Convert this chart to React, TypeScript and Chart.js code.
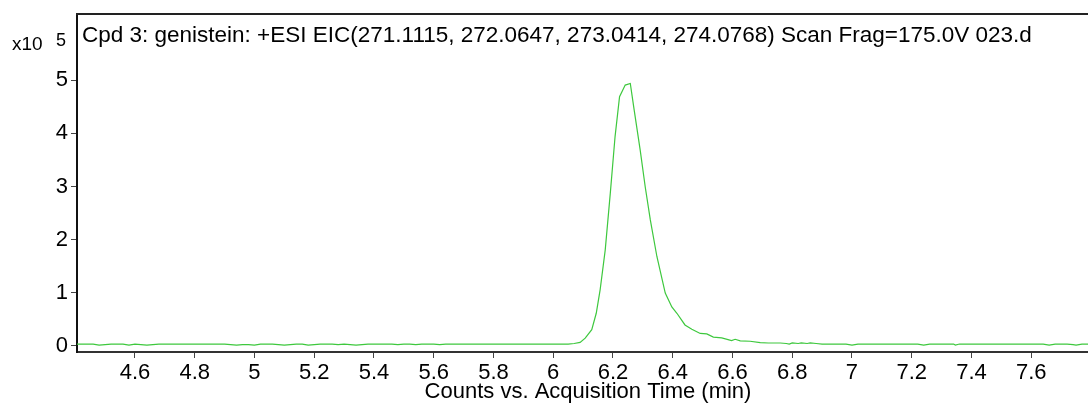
import React, { useEffect, useRef } from 'react';
import { Chart, registerables } from 'chart.js';

Chart.register(...registerables);

// Acquisition time (min)
const times: number[] = [
  4.40, 4.42, 4.44, 4.46, 4.48, 4.50, 4.52, 4.54, 4.56, 4.58,
  4.60, 4.62, 4.64, 4.66, 4.68, 4.70, 4.72, 4.74, 4.76, 4.78,
  4.80, 4.82, 4.84, 4.86, 4.88, 4.90, 4.92, 4.94, 4.96, 4.98,
  5.00, 5.02, 5.04, 5.06, 5.08, 5.10, 5.12, 5.14, 5.16, 5.18,
  5.20, 5.22, 5.24, 5.26, 5.28, 5.30, 5.32, 5.34, 5.36, 5.38,
  5.40, 5.42, 5.44, 5.46, 5.48, 5.50, 5.52, 5.54, 5.56, 5.58,
  5.60, 5.62, 5.64, 5.66, 5.68, 5.70, 5.72, 5.74, 5.76, 5.78,
  5.80, 5.82, 5.84, 5.86, 5.88, 5.90, 5.92, 5.94, 5.96, 5.98,
  6.00, 6.02, 6.05, 6.07, 6.09, 6.107, 6.129, 6.144, 6.157, 6.174,
  6.191, 6.207, 6.222, 6.241, 6.258, 6.271, 6.291, 6.308, 6.325, 6.347,
  6.375, 6.397, 6.414, 6.441, 6.464, 6.492, 6.514, 6.536, 6.564, 6.597,
  6.609, 6.626, 6.659, 6.693, 6.72, 6.74, 6.76, 6.78, 6.79, 6.80,
  6.82, 6.83, 6.85, 6.86, 6.88, 6.90, 6.92, 6.94, 6.96, 6.98,
  7.00, 7.02, 7.06, 7.10, 7.14, 7.18, 7.22, 7.24, 7.26, 7.30,
  7.34, 7.346, 7.36, 7.40, 7.44, 7.48, 7.52, 7.56, 7.60, 7.64,
  7.66, 7.68, 7.72, 7.74, 7.75, 7.77, 7.80, 7.82,
];

// Counts (x10^5)
const counts: number[] = [
  0.03, 0.03, 0.03, 0.03, 0.01, 0.02, 0.03, 0.03, 0.03, 0.01,
  0.03, 0.02, 0.01, 0.02, 0.03, 0.03, 0.03, 0.03, 0.03, 0.03,
  0.03, 0.03, 0.03, 0.03, 0.03, 0.03, 0.02, 0.01, 0.02, 0.02,
  0.01, 0.03, 0.03, 0.03, 0.02, 0.01, 0.02, 0.03, 0.03, 0.01,
  0.02, 0.03, 0.03, 0.03, 0.02, 0.03, 0.02, 0.01, 0.02, 0.03,
  0.03, 0.03, 0.03, 0.03, 0.02, 0.03, 0.03, 0.02, 0.03, 0.03,
  0.03, 0.02, 0.03, 0.03, 0.03, 0.03, 0.03, 0.03, 0.03, 0.03,
  0.03, 0.03, 0.03, 0.03, 0.03, 0.03, 0.03, 0.03, 0.03, 0.03,
  0.03, 0.03, 0.03, 0.04, 0.06, 0.14, 0.30, 0.61, 1.05, 1.80,
  2.87, 3.94, 4.69, 4.91, 4.94, 4.44, 3.69, 2.99, 2.37, 1.68,
  0.99, 0.73, 0.61, 0.39, 0.31, 0.23, 0.22, 0.16, 0.145, 0.094,
  0.12, 0.09, 0.083, 0.057, 0.05, 0.05, 0.05, 0.04, 0.03, 0.05,
  0.04, 0.05, 0.04, 0.05, 0.04, 0.03, 0.03, 0.03, 0.03, 0.03,
  0.01, 0.03, 0.03, 0.03, 0.03, 0.03, 0.03, 0.01, 0.03, 0.03,
  0.03, 0.01, 0.03, 0.03, 0.03, 0.03, 0.03, 0.03, 0.03, 0.03,
  0.01, 0.03, 0.03, 0.02, 0.01, 0.03, 0.03, 0.03,
];

const xTicks: number[] = [4.6, 4.8, 5.0, 5.2, 5.4, 5.6, 5.8, 6.0, 6.2, 6.4, 6.6, 6.8, 7.0, 7.2, 7.4, 7.6];
const yTicks: number[] = [0, 1, 2, 3, 4, 5];

const titleText = 'Cpd 3: genistein: +ESI EIC(271.1115, 272.0647, 273.0414, 274.0768) Scan Frag=175.0V 023.d';
const xAxisTitle = 'Counts vs. Acquisition Time (min)';
const yMultiplierBase = 'x10';
const yMultiplierExp = '5';

const FONT = '"Liberation Sans", Arial, Helvetica, sans-serif';

const decorPlugin = {
  id: 'decor',
  afterDraw(chart: any) {
    const { ctx, chartArea } = chart;
    ctx.save();
    // top border
    ctx.strokeStyle = '#222';
    ctx.lineWidth = 2;
    ctx.beginPath();
    ctx.moveTo(chartArea.left - 1, chartArea.top);
    ctx.lineTo(chartArea.right, chartArea.top);
    ctx.stroke();

    ctx.fillStyle = '#000';
    ctx.textBaseline = 'alphabetic';
    // title
    ctx.font = `22.5px ${FONT}`;
    ctx.textAlign = 'left';
    ctx.fillText(titleText, chartArea.left + 5, 42);
    // multiplier
    ctx.font = `19px ${FONT}`;
    ctx.fillText(yMultiplierBase, 12, 50);
    ctx.font = `18px ${FONT}`;
    ctx.fillText(yMultiplierExp, 56, 46);
    // x axis title
    ctx.font = `22px ${FONT}`;
    ctx.textAlign = 'center';
    ctx.fillText(xAxisTitle, 588, 398);
    ctx.restore();
  },
};

export default function App() {
  const ref = useRef<HTMLCanvasElement | null>(null);

  useEffect(() => {
    if (!ref.current) return;
    const chart = new Chart(ref.current, {
      type: 'line',
      data: {
        datasets: [
          {
            data: times.map((t, i) => ({ x: t, y: counts[i] })),
            borderColor: '#3ec83e',
            borderWidth: 1.2,
            pointRadius: 0,
            tension: 0,
            fill: false,
          },
        ],
      },
      options: {
        animation: false,
        responsive: false,
        maintainAspectRatio: false,
        layout: { padding: { top: 14, left: 0, right: 0, bottom: 0 } },
        plugins: {
          legend: { display: false },
          tooltip: { enabled: false },
          title: { display: false },
        },
        scales: {
          x: {
            type: 'linear',
            min: 4.406,
            max: 7.79,
            afterFit: (s: any) => {
              s.height = 53;
              s.paddingLeft = 0;
              s.paddingRight = 0;
            },
            afterBuildTicks: (axis: any) => {
              axis.ticks = xTicks.map((v) => ({ value: v }));
            },
            grid: {
              drawOnChartArea: false,
              drawTicks: true,
              tickLength: 6,
              color: '#444',
              lineWidth: 1,
            },
            border: { display: true, color: '#333', width: 2 },
            ticks: {
              autoSkip: false,
              maxRotation: 0,
              minRotation: 0,
              padding: 2,
              color: '#000',
              font: { family: FONT, size: 22 },
              callback: (v: any) => String(Number(Number(v).toFixed(1))),
            },
          },
          y: {
            type: 'linear',
            min: -0.12,
            max: 6.25,
            afterFit: (s: any) => {
              s.width = 77;
              s.paddingTop = 0;
              s.paddingBottom = 0;
            },
            afterBuildTicks: (axis: any) => {
              axis.ticks = yTicks.map((v) => ({ value: v }));
            },
            grid: {
              drawOnChartArea: false,
              drawTicks: true,
              tickLength: 6,
              color: '#444',
              lineWidth: 1,
            },
            border: { display: true, color: '#111', width: 2 },
            ticks: {
              padding: 3,
              color: '#000',
              font: { family: FONT, size: 22 },
              callback: (v: any) => String(v),
            },
          },
        },
      },
      plugins: [decorPlugin],
    });
    return () => chart.destroy();
  }, []);

  return (
    <div style={{ position: 'fixed', left: 0, top: 0, width: 1088, height: 405, background: '#fff' }}>
      <canvas ref={ref} width={1088} height={405} style={{ display: 'block' }} />
    </div>
  );
}
